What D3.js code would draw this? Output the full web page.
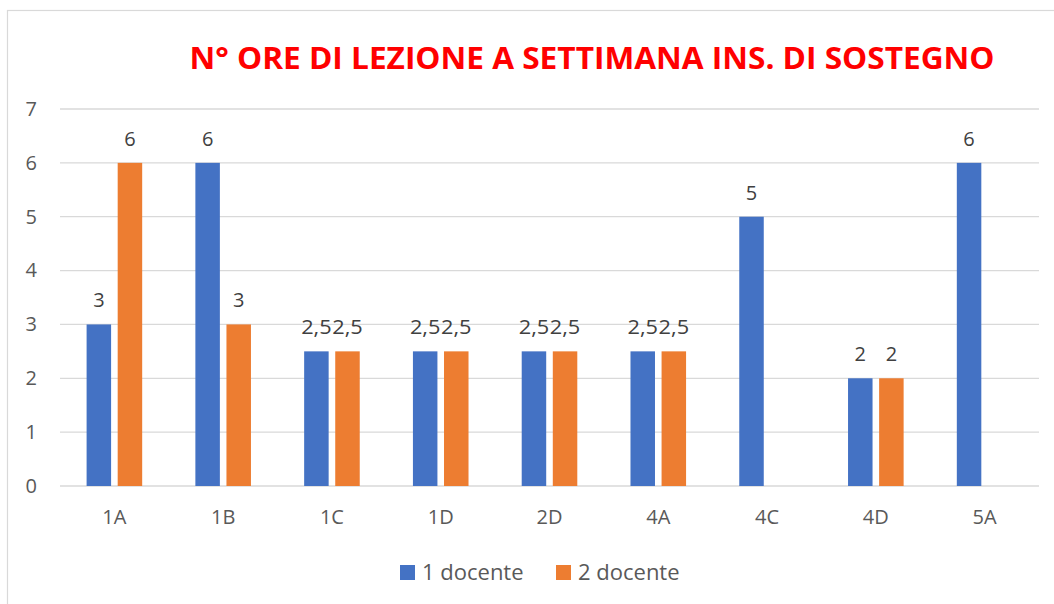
<!DOCTYPE html>
<html>
<head>
<meta charset="utf-8">
<script src="https://cdn.jsdelivr.net/npm/d3@7"></script>
<style>
  html, body { margin: 0; padding: 0; background: #fff; }
  svg { display: block; }
</style>
</head>
<body>
<svg id="chart" width="1054" height="604"></svg>
<script>
// Weekly support-teaching hours per class
const classes = ["1A", "1B", "1C", "1D", "2D", "4A", "4C", "4D", "5A"];
const seriesNames = ["1 docente", "2 docente"];
const docente1 = [3, 6, 2.5, 2.5, 2.5, 2.5, 5, 2, 6];
const docente2 = [6, 3, 2.5, 2.5, 2.5, 2.5, null, 2, null];
const yTicks = [0, 1, 2, 3, 4, 5, 6, 7];
const colors = ["#4472C4", "#ED7D31"];
const title = "N° ORE DI LEZIONE A SETTIMANA INS. DI SOSTEGNO";

const svg = d3.select("#chart");
const W = 1054, H = 604;
const plot = { left: 60, right: 1039, top: 109, bottom: 486 };
const font = "'Open Sans', 'DejaVu Sans', sans-serif";

// chart area frame
svg.append("rect")
  .attr("x", 7.5).attr("y", 10.5)
  .attr("width", W + 10).attr("height", H + 10)
  .attr("fill", "#fff").attr("stroke", "#d9d9d9").attr("stroke-width", 1.2);

// title
svg.append("text")
  .attr("x", 592).attr("y", 69)
  .attr("text-anchor", "middle")
  .attr("font-family", "'Open Sans', sans-serif")
  .attr("font-weight", 700)
  .attr("font-size", 31)
  .attr("fill", "#FF0000")
  .attr("textLength", 805)
  .attr("lengthAdjust", "spacingAndGlyphs")
  .text(title);

const x0 = d3.scaleBand().domain(classes).range([plot.left, plot.right]).padding(0);
const x1 = d3.scaleBand().domain(seriesNames)
  .range([x0.bandwidth() * 0.2445, x0.bandwidth() * 0.7555])
  .paddingInner(0.212).paddingOuter(0);
const y = d3.scaleLinear().domain([0, 7]).range([plot.bottom, plot.top]);

// horizontal gridlines
svg.append("g")
  .selectAll("line")
  .data(yTicks)
  .join("line")
  .attr("x1", plot.left).attr("x2", plot.right)
  .attr("y1", d => y(d)).attr("y2", d => y(d))
  .attr("stroke", "#d9d9d9").attr("stroke-width", 1.3);

// y axis labels
const yAxis = d3.axisLeft(y).tickValues(yTicks).tickFormat(d3.format("d")).tickSize(0).tickPadding(0);
const gy = svg.append("g").attr("transform", "translate(37,0)").call(yAxis);
gy.select(".domain").remove();
gy.selectAll("text")
  .attr("font-family", font).attr("font-size", 20).attr("fill", "#595959");

// x axis labels
const xAxis = d3.axisBottom(x0).tickSize(0).tickPadding(0);
const gx = svg.append("g").attr("transform", `translate(0,${plot.bottom})`).call(xAxis);
gx.select(".domain").remove();
gx.selectAll("text")
  .attr("y", 38).attr("dy", 0)
  .attr("font-family", font).attr("font-size", 20).attr("fill", "#595959");

const seriesData = [docente1, docente2];
const fmt = v => String(v).replace(".", ",");

seriesNames.forEach((name, si) => {
  const rows = classes.map((c, i) => ({ c, v: seriesData[si][i] })).filter(d => d.v != null);
  const g = svg.append("g");
  g.selectAll("rect")
    .data(rows)
    .join("rect")
    .attr("x", d => x0(d.c) + x1(name))
    .attr("width", x1.bandwidth())
    .attr("y", d => y(d.v))
    .attr("height", d => y(0) - y(d.v))
    .attr("fill", colors[si]);
  g.selectAll("text")
    .data(rows)
    .join("text")
    .attr("x", d => x0(d.c) + x1(name) + x1.bandwidth() / 2)
    .attr("y", d => y(d.v) - 17)
    .attr("text-anchor", "middle")
    .attr("font-family", font).attr("font-size", 20).attr("fill", "#404040")
    .each(function (d) {
      // decimal labels are set tight so neighbouring values run together
      if (fmt(d.v).length > 1) {
        d3.select(this).attr("textLength", 30.5).attr("lengthAdjust", "spacingAndGlyphs");
      }
    })
    .text(d => fmt(d.v));
});

// legend
const legendItems = [
  { name: seriesNames[0], color: colors[0], x: 400 },
  { name: seriesNames[1], color: colors[1], x: 556 }
];
const lg = svg.append("g");
legendItems.forEach(it => {
  lg.append("rect").attr("x", it.x).attr("y", 565).attr("width", 15).attr("height", 15).attr("fill", it.color);
  lg.append("text").attr("x", it.x + 22).attr("y", 580)
    .attr("font-family", font).attr("font-size", 22).attr("fill", "#595959")
    .text(it.name);
});
</script>
</body>
</html>
